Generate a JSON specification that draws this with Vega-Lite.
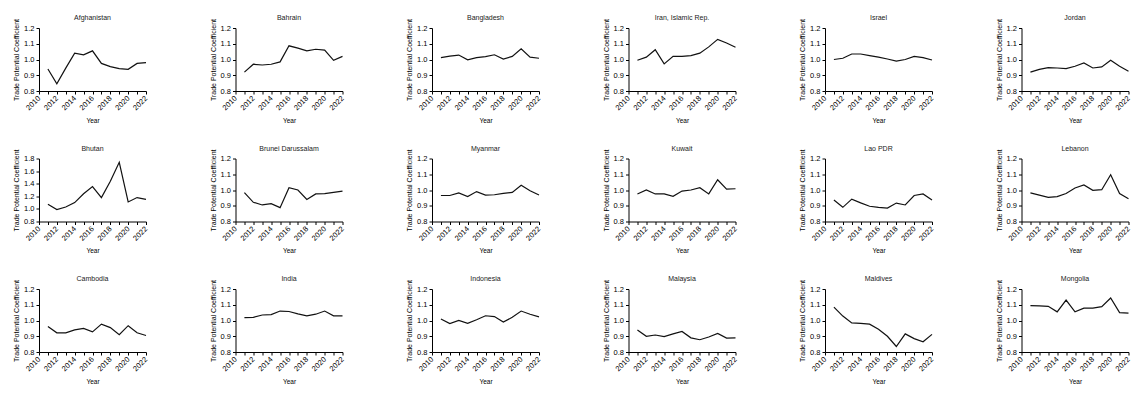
{
  "$schema": "https://vega.github.io/schema/vega-lite/v6.json",
  "background": "white",
  "padding": {"left": 12, "top": 14, "right": 5, "bottom": 5},
  "config": {
    "view": {"stroke": null},
    "font": "Liberation Sans",
    "title": {"fontSize": 7, "fontWeight": "normal", "font": "Liberation Sans", "color": "#222222", "offset": -3},
    "axis": {
      "grid": false, "domainColor": "black", "tickColor": "black", "labelColor": "black", "titleColor": "black",
      "labelFont": "Liberation Sans", "titleFont": "Liberation Sans", "labelFontSize": 7.5, "titleFontSize": 7,
      "titleFontWeight": "normal", "tickSize": 3, "domainWidth": 1, "tickWidth": 1, "labelOverlap": false
    },
    "axisX": {"labelAngle": -45, "labelAlign": "right", "labelBaseline": "middle", "titlePadding": 6, "labelPadding": 3, "titleFontSize": 6.5},
    "axisY": {"titlePadding": 4, "labelPadding": 2},
    "line": {"color": "#111111", "strokeWidth": 1.2}
  },
  "spacing": {"row": 20.5, "column": 59.5},
  "columns": 6,
  "data": {"values": [
    {"c":"Afghanistan","year":2011,"v":0.94},{"c":"Afghanistan","year":2012,"v":0.845},{"c":"Afghanistan","year":2013,"v":0.945},{"c":"Afghanistan","year":2014,"v":1.04},{"c":"Afghanistan","year":2015,"v":1.03},{"c":"Afghanistan","year":2016,"v":1.055},{"c":"Afghanistan","year":2017,"v":0.975},{"c":"Afghanistan","year":2018,"v":0.955},{"c":"Afghanistan","year":2019,"v":0.942},{"c":"Afghanistan","year":2020,"v":0.938},{"c":"Afghanistan","year":2021,"v":0.975},{"c":"Afghanistan","year":2022,"v":0.98},
    {"c":"Bahrain","year":2011,"v":0.92},{"c":"Bahrain","year":2012,"v":0.97},{"c":"Bahrain","year":2013,"v":0.965},{"c":"Bahrain","year":2014,"v":0.97},{"c":"Bahrain","year":2015,"v":0.985},{"c":"Bahrain","year":2016,"v":1.087},{"c":"Bahrain","year":2017,"v":1.072},{"c":"Bahrain","year":2018,"v":1.055},{"c":"Bahrain","year":2019,"v":1.065},{"c":"Bahrain","year":2020,"v":1.06},{"c":"Bahrain","year":2021,"v":0.995},{"c":"Bahrain","year":2022,"v":1.02},
    {"c":"Bangladesh","year":2011,"v":1.012},{"c":"Bangladesh","year":2012,"v":1.022},{"c":"Bangladesh","year":2013,"v":1.028},{"c":"Bangladesh","year":2014,"v":0.998},{"c":"Bangladesh","year":2015,"v":1.012},{"c":"Bangladesh","year":2016,"v":1.018},{"c":"Bangladesh","year":2017,"v":1.03},{"c":"Bangladesh","year":2018,"v":1.003},{"c":"Bangladesh","year":2019,"v":1.02},{"c":"Bangladesh","year":2020,"v":1.068},{"c":"Bangladesh","year":2021,"v":1.015},{"c":"Bangladesh","year":2022,"v":1.008},
    {"c":"Iran, Islamic Rep.","year":2011,"v":0.995},{"c":"Iran, Islamic Rep.","year":2012,"v":1.015},{"c":"Iran, Islamic Rep.","year":2013,"v":1.062},{"c":"Iran, Islamic Rep.","year":2014,"v":0.972},{"c":"Iran, Islamic Rep.","year":2015,"v":1.02},{"c":"Iran, Islamic Rep.","year":2016,"v":1.02},{"c":"Iran, Islamic Rep.","year":2017,"v":1.025},{"c":"Iran, Islamic Rep.","year":2018,"v":1.04},{"c":"Iran, Islamic Rep.","year":2019,"v":1.08},{"c":"Iran, Islamic Rep.","year":2020,"v":1.128},{"c":"Iran, Islamic Rep.","year":2021,"v":1.105},{"c":"Iran, Islamic Rep.","year":2022,"v":1.078},
    {"c":"Israel","year":2011,"v":1.0},{"c":"Israel","year":2012,"v":1.008},{"c":"Israel","year":2013,"v":1.035},{"c":"Israel","year":2014,"v":1.035},{"c":"Israel","year":2015,"v":1.025},{"c":"Israel","year":2016,"v":1.015},{"c":"Israel","year":2017,"v":1.003},{"c":"Israel","year":2018,"v":0.99},{"c":"Israel","year":2019,"v":1.0},{"c":"Israel","year":2020,"v":1.02},{"c":"Israel","year":2021,"v":1.012},{"c":"Israel","year":2022,"v":0.997},
    {"c":"Jordan","year":2011,"v":0.92},{"c":"Jordan","year":2012,"v":0.937},{"c":"Jordan","year":2013,"v":0.948},{"c":"Jordan","year":2014,"v":0.946},{"c":"Jordan","year":2015,"v":0.942},{"c":"Jordan","year":2016,"v":0.957},{"c":"Jordan","year":2017,"v":0.978},{"c":"Jordan","year":2018,"v":0.946},{"c":"Jordan","year":2019,"v":0.953},{"c":"Jordan","year":2020,"v":0.995},{"c":"Jordan","year":2021,"v":0.957},{"c":"Jordan","year":2022,"v":0.925},
    {"c":"Bhutan","year":2011,"v":1.075},{"c":"Bhutan","year":2012,"v":0.99},{"c":"Bhutan","year":2013,"v":1.03},{"c":"Bhutan","year":2014,"v":1.1},{"c":"Bhutan","year":2015,"v":1.24},{"c":"Bhutan","year":2016,"v":1.355},{"c":"Bhutan","year":2017,"v":1.18},{"c":"Bhutan","year":2018,"v":1.44},{"c":"Bhutan","year":2019,"v":1.74},{"c":"Bhutan","year":2020,"v":1.11},{"c":"Bhutan","year":2021,"v":1.18},{"c":"Bhutan","year":2022,"v":1.15},
    {"c":"Brunei Darussalam","year":2011,"v":0.983},{"c":"Brunei Darussalam","year":2012,"v":0.922},{"c":"Brunei Darussalam","year":2013,"v":0.905},{"c":"Brunei Darussalam","year":2014,"v":0.913},{"c":"Brunei Darussalam","year":2015,"v":0.888},{"c":"Brunei Darussalam","year":2016,"v":1.015},{"c":"Brunei Darussalam","year":2017,"v":1.0},{"c":"Brunei Darussalam","year":2018,"v":0.94},{"c":"Brunei Darussalam","year":2019,"v":0.975},{"c":"Brunei Darussalam","year":2020,"v":0.977},{"c":"Brunei Darussalam","year":2021,"v":0.985},{"c":"Brunei Darussalam","year":2022,"v":0.993},
    {"c":"Myanmar","year":2011,"v":0.965},{"c":"Myanmar","year":2012,"v":0.965},{"c":"Myanmar","year":2013,"v":0.982},{"c":"Myanmar","year":2014,"v":0.958},{"c":"Myanmar","year":2015,"v":0.99},{"c":"Myanmar","year":2016,"v":0.968},{"c":"Myanmar","year":2017,"v":0.97},{"c":"Myanmar","year":2018,"v":0.978},{"c":"Myanmar","year":2019,"v":0.985},{"c":"Myanmar","year":2020,"v":1.03},{"c":"Myanmar","year":2021,"v":0.995},{"c":"Myanmar","year":2022,"v":0.968},
    {"c":"Kuwait","year":2011,"v":0.975},{"c":"Kuwait","year":2012,"v":1.0},{"c":"Kuwait","year":2013,"v":0.975},{"c":"Kuwait","year":2014,"v":0.975},{"c":"Kuwait","year":2015,"v":0.96},{"c":"Kuwait","year":2016,"v":0.993},{"c":"Kuwait","year":2017,"v":1.0},{"c":"Kuwait","year":2018,"v":1.015},{"c":"Kuwait","year":2019,"v":0.975},{"c":"Kuwait","year":2020,"v":1.065},{"c":"Kuwait","year":2021,"v":1.005},{"c":"Kuwait","year":2022,"v":1.008},
    {"c":"Lao PDR","year":2011,"v":0.937},{"c":"Lao PDR","year":2012,"v":0.89},{"c":"Lao PDR","year":2013,"v":0.942},{"c":"Lao PDR","year":2014,"v":0.918},{"c":"Lao PDR","year":2015,"v":0.897},{"c":"Lao PDR","year":2016,"v":0.89},{"c":"Lao PDR","year":2017,"v":0.885},{"c":"Lao PDR","year":2018,"v":0.917},{"c":"Lao PDR","year":2019,"v":0.905},{"c":"Lao PDR","year":2020,"v":0.965},{"c":"Lao PDR","year":2021,"v":0.975},{"c":"Lao PDR","year":2022,"v":0.937},
    {"c":"Lebanon","year":2011,"v":0.982},{"c":"Lebanon","year":2012,"v":0.967},{"c":"Lebanon","year":2013,"v":0.953},{"c":"Lebanon","year":2014,"v":0.958},{"c":"Lebanon","year":2015,"v":0.978},{"c":"Lebanon","year":2016,"v":1.013},{"c":"Lebanon","year":2017,"v":1.032},{"c":"Lebanon","year":2018,"v":0.998},{"c":"Lebanon","year":2019,"v":1.002},{"c":"Lebanon","year":2020,"v":1.097},{"c":"Lebanon","year":2021,"v":0.978},{"c":"Lebanon","year":2022,"v":0.945},
    {"c":"Cambodia","year":2011,"v":0.962},{"c":"Cambodia","year":2012,"v":0.922},{"c":"Cambodia","year":2013,"v":0.922},{"c":"Cambodia","year":2014,"v":0.94},{"c":"Cambodia","year":2015,"v":0.95},{"c":"Cambodia","year":2016,"v":0.928},{"c":"Cambodia","year":2017,"v":0.977},{"c":"Cambodia","year":2018,"v":0.955},{"c":"Cambodia","year":2019,"v":0.91},{"c":"Cambodia","year":2020,"v":0.967},{"c":"Cambodia","year":2021,"v":0.922},{"c":"Cambodia","year":2022,"v":0.905},
    {"c":"India","year":2011,"v":1.018},{"c":"India","year":2012,"v":1.02},{"c":"India","year":2013,"v":1.035},{"c":"India","year":2014,"v":1.037},{"c":"India","year":2015,"v":1.06},{"c":"India","year":2016,"v":1.057},{"c":"India","year":2017,"v":1.042},{"c":"India","year":2018,"v":1.03},{"c":"India","year":2019,"v":1.04},{"c":"India","year":2020,"v":1.06},{"c":"India","year":2021,"v":1.03},{"c":"India","year":2022,"v":1.03},
    {"c":"Indonesia","year":2011,"v":1.01},{"c":"Indonesia","year":2012,"v":0.98},{"c":"Indonesia","year":2013,"v":1.0},{"c":"Indonesia","year":2014,"v":0.982},{"c":"Indonesia","year":2015,"v":1.005},{"c":"Indonesia","year":2016,"v":1.03},{"c":"Indonesia","year":2017,"v":1.025},{"c":"Indonesia","year":2018,"v":0.99},{"c":"Indonesia","year":2019,"v":1.02},{"c":"Indonesia","year":2020,"v":1.06},{"c":"Indonesia","year":2021,"v":1.04},{"c":"Indonesia","year":2022,"v":1.023},
    {"c":"Malaysia","year":2011,"v":0.94},{"c":"Malaysia","year":2012,"v":0.9},{"c":"Malaysia","year":2013,"v":0.908},{"c":"Malaysia","year":2014,"v":0.898},{"c":"Malaysia","year":2015,"v":0.915},{"c":"Malaysia","year":2016,"v":0.93},{"c":"Malaysia","year":2017,"v":0.89},{"c":"Malaysia","year":2018,"v":0.878},{"c":"Malaysia","year":2019,"v":0.895},{"c":"Malaysia","year":2020,"v":0.918},{"c":"Malaysia","year":2021,"v":0.888},{"c":"Malaysia","year":2022,"v":0.89},
    {"c":"Maldives","year":2011,"v":1.085},{"c":"Maldives","year":2012,"v":1.028},{"c":"Maldives","year":2013,"v":0.985},{"c":"Maldives","year":2014,"v":0.982},{"c":"Maldives","year":2015,"v":0.977},{"c":"Maldives","year":2016,"v":0.945},{"c":"Maldives","year":2017,"v":0.9},{"c":"Maldives","year":2018,"v":0.835},{"c":"Maldives","year":2019,"v":0.915},{"c":"Maldives","year":2020,"v":0.885},{"c":"Maldives","year":2021,"v":0.865},{"c":"Maldives","year":2022,"v":0.912},
    {"c":"Mongolia","year":2011,"v":1.095},{"c":"Mongolia","year":2012,"v":1.093},{"c":"Mongolia","year":2013,"v":1.09},{"c":"Mongolia","year":2014,"v":1.055},{"c":"Mongolia","year":2015,"v":1.13},{"c":"Mongolia","year":2016,"v":1.055},{"c":"Mongolia","year":2017,"v":1.078},{"c":"Mongolia","year":2018,"v":1.078},{"c":"Mongolia","year":2019,"v":1.088},{"c":"Mongolia","year":2020,"v":1.143},{"c":"Mongolia","year":2021,"v":1.05},{"c":"Mongolia","year":2022,"v":1.047}
  ]},
  "concat": [
    {"title": "Afghanistan", "width": 107, "height": 63, "transform": [{"filter": "datum.c === 'Afghanistan'"}], "mark": "line", "encoding": {"x": {"field": "year", "type": "quantitative", "scale": {"domain": [2010, 2022]}, "axis": {"title": "Year", "values": [2010,2011,2012,2013,2014,2015,2016,2017,2018,2019,2020,2021,2022], "labelExpr": "datum.value % 2 === 0 ? datum.value : ''"}}, "y": {"field": "v", "type": "quantitative", "scale": {"domain": [0.8, 1.2]}, "axis": {"title": "Trade Potential Coefficient", "values": [0.8,0.9,1.0,1.1,1.2], "format": ".1f"}}}},
    {"title": "Bahrain", "width": 107, "height": 63, "transform": [{"filter": "datum.c === 'Bahrain'"}], "mark": "line", "encoding": {"x": {"field": "year", "type": "quantitative", "scale": {"domain": [2010, 2022]}, "axis": {"title": "Year", "values": [2010,2011,2012,2013,2014,2015,2016,2017,2018,2019,2020,2021,2022], "labelExpr": "datum.value % 2 === 0 ? datum.value : ''"}}, "y": {"field": "v", "type": "quantitative", "scale": {"domain": [0.8, 1.2]}, "axis": {"title": "Trade Potential Coefficient", "values": [0.8,0.9,1.0,1.1,1.2], "format": ".1f"}}}},
    {"title": "Bangladesh", "width": 107, "height": 63, "transform": [{"filter": "datum.c === 'Bangladesh'"}], "mark": "line", "encoding": {"x": {"field": "year", "type": "quantitative", "scale": {"domain": [2010, 2022]}, "axis": {"title": "Year", "values": [2010,2011,2012,2013,2014,2015,2016,2017,2018,2019,2020,2021,2022], "labelExpr": "datum.value % 2 === 0 ? datum.value : ''"}}, "y": {"field": "v", "type": "quantitative", "scale": {"domain": [0.8, 1.2]}, "axis": {"title": "Trade Potential Coefficient", "values": [0.8,0.9,1.0,1.1,1.2], "format": ".1f"}}}},
    {"title": "Iran, Islamic Rep.", "width": 107, "height": 63, "transform": [{"filter": "datum.c === 'Iran, Islamic Rep.'"}], "mark": "line", "encoding": {"x": {"field": "year", "type": "quantitative", "scale": {"domain": [2010, 2022]}, "axis": {"title": "Year", "values": [2010,2011,2012,2013,2014,2015,2016,2017,2018,2019,2020,2021,2022], "labelExpr": "datum.value % 2 === 0 ? datum.value : ''"}}, "y": {"field": "v", "type": "quantitative", "scale": {"domain": [0.8, 1.2]}, "axis": {"title": "Trade Potential Coefficient", "values": [0.8,0.9,1.0,1.1,1.2], "format": ".1f"}}}},
    {"title": "Israel", "width": 107, "height": 63, "transform": [{"filter": "datum.c === 'Israel'"}], "mark": "line", "encoding": {"x": {"field": "year", "type": "quantitative", "scale": {"domain": [2010, 2022]}, "axis": {"title": "Year", "values": [2010,2011,2012,2013,2014,2015,2016,2017,2018,2019,2020,2021,2022], "labelExpr": "datum.value % 2 === 0 ? datum.value : ''"}}, "y": {"field": "v", "type": "quantitative", "scale": {"domain": [0.8, 1.2]}, "axis": {"title": "Trade Potential Coefficient", "values": [0.8,0.9,1.0,1.1,1.2], "format": ".1f"}}}},
    {"title": "Jordan", "width": 107, "height": 63, "transform": [{"filter": "datum.c === 'Jordan'"}], "mark": "line", "encoding": {"x": {"field": "year", "type": "quantitative", "scale": {"domain": [2010, 2022]}, "axis": {"title": "Year", "values": [2010,2011,2012,2013,2014,2015,2016,2017,2018,2019,2020,2021,2022], "labelExpr": "datum.value % 2 === 0 ? datum.value : ''"}}, "y": {"field": "v", "type": "quantitative", "scale": {"domain": [0.8, 1.2]}, "axis": {"title": "Trade Potential Coefficient", "values": [0.8,0.9,1.0,1.1,1.2], "format": ".1f"}}}},
    {"title": "Bhutan", "width": 107, "height": 63, "transform": [{"filter": "datum.c === 'Bhutan'"}], "mark": "line", "encoding": {"x": {"field": "year", "type": "quantitative", "scale": {"domain": [2010, 2022]}, "axis": {"title": "Year", "values": [2010,2011,2012,2013,2014,2015,2016,2017,2018,2019,2020,2021,2022], "labelExpr": "datum.value % 2 === 0 ? datum.value : ''"}}, "y": {"field": "v", "type": "quantitative", "scale": {"domain": [0.8, 1.8]}, "axis": {"title": "Trade Potential Coefficient", "values": [0.8,1.0,1.2,1.4,1.6,1.8], "format": ".1f"}}}},
    {"title": "Brunei Darussalam", "width": 107, "height": 63, "transform": [{"filter": "datum.c === 'Brunei Darussalam'"}], "mark": "line", "encoding": {"x": {"field": "year", "type": "quantitative", "scale": {"domain": [2010, 2022]}, "axis": {"title": "Year", "values": [2010,2011,2012,2013,2014,2015,2016,2017,2018,2019,2020,2021,2022], "labelExpr": "datum.value % 2 === 0 ? datum.value : ''"}}, "y": {"field": "v", "type": "quantitative", "scale": {"domain": [0.8, 1.2]}, "axis": {"title": "Trade Potential Coefficient", "values": [0.8,0.9,1.0,1.1,1.2], "format": ".1f"}}}},
    {"title": "Myanmar", "width": 107, "height": 63, "transform": [{"filter": "datum.c === 'Myanmar'"}], "mark": "line", "encoding": {"x": {"field": "year", "type": "quantitative", "scale": {"domain": [2010, 2022]}, "axis": {"title": "Year", "values": [2010,2011,2012,2013,2014,2015,2016,2017,2018,2019,2020,2021,2022], "labelExpr": "datum.value % 2 === 0 ? datum.value : ''"}}, "y": {"field": "v", "type": "quantitative", "scale": {"domain": [0.8, 1.2]}, "axis": {"title": "Trade Potential Coefficient", "values": [0.8,0.9,1.0,1.1,1.2], "format": ".1f"}}}},
    {"title": "Kuwait", "width": 107, "height": 63, "transform": [{"filter": "datum.c === 'Kuwait'"}], "mark": "line", "encoding": {"x": {"field": "year", "type": "quantitative", "scale": {"domain": [2010, 2022]}, "axis": {"title": "Year", "values": [2010,2011,2012,2013,2014,2015,2016,2017,2018,2019,2020,2021,2022], "labelExpr": "datum.value % 2 === 0 ? datum.value : ''"}}, "y": {"field": "v", "type": "quantitative", "scale": {"domain": [0.8, 1.2]}, "axis": {"title": "Trade Potential Coefficient", "values": [0.8,0.9,1.0,1.1,1.2], "format": ".1f"}}}},
    {"title": "Lao PDR", "width": 107, "height": 63, "transform": [{"filter": "datum.c === 'Lao PDR'"}], "mark": "line", "encoding": {"x": {"field": "year", "type": "quantitative", "scale": {"domain": [2010, 2022]}, "axis": {"title": "Year", "values": [2010,2011,2012,2013,2014,2015,2016,2017,2018,2019,2020,2021,2022], "labelExpr": "datum.value % 2 === 0 ? datum.value : ''"}}, "y": {"field": "v", "type": "quantitative", "scale": {"domain": [0.8, 1.2]}, "axis": {"title": "Trade Potential Coefficient", "values": [0.8,0.9,1.0,1.1,1.2], "format": ".1f"}}}},
    {"title": "Lebanon", "width": 107, "height": 63, "transform": [{"filter": "datum.c === 'Lebanon'"}], "mark": "line", "encoding": {"x": {"field": "year", "type": "quantitative", "scale": {"domain": [2010, 2022]}, "axis": {"title": "Year", "values": [2010,2011,2012,2013,2014,2015,2016,2017,2018,2019,2020,2021,2022], "labelExpr": "datum.value % 2 === 0 ? datum.value : ''"}}, "y": {"field": "v", "type": "quantitative", "scale": {"domain": [0.8, 1.2]}, "axis": {"title": "Trade Potential Coefficient", "values": [0.8,0.9,1.0,1.1,1.2], "format": ".1f"}}}},
    {"title": "Cambodia", "width": 107, "height": 63, "transform": [{"filter": "datum.c === 'Cambodia'"}], "mark": "line", "encoding": {"x": {"field": "year", "type": "quantitative", "scale": {"domain": [2010, 2022]}, "axis": {"title": "Year", "values": [2010,2011,2012,2013,2014,2015,2016,2017,2018,2019,2020,2021,2022], "labelExpr": "datum.value % 2 === 0 ? datum.value : ''"}}, "y": {"field": "v", "type": "quantitative", "scale": {"domain": [0.8, 1.2]}, "axis": {"title": "Trade Potential Coefficient", "values": [0.8,0.9,1.0,1.1,1.2], "format": ".1f"}}}},
    {"title": "India", "width": 107, "height": 63, "transform": [{"filter": "datum.c === 'India'"}], "mark": "line", "encoding": {"x": {"field": "year", "type": "quantitative", "scale": {"domain": [2010, 2022]}, "axis": {"title": "Year", "values": [2010,2011,2012,2013,2014,2015,2016,2017,2018,2019,2020,2021,2022], "labelExpr": "datum.value % 2 === 0 ? datum.value : ''"}}, "y": {"field": "v", "type": "quantitative", "scale": {"domain": [0.8, 1.2]}, "axis": {"title": "Trade Potential Coefficient", "values": [0.8,0.9,1.0,1.1,1.2], "format": ".1f"}}}},
    {"title": "Indonesia", "width": 107, "height": 63, "transform": [{"filter": "datum.c === 'Indonesia'"}], "mark": "line", "encoding": {"x": {"field": "year", "type": "quantitative", "scale": {"domain": [2010, 2022]}, "axis": {"title": "Year", "values": [2010,2011,2012,2013,2014,2015,2016,2017,2018,2019,2020,2021,2022], "labelExpr": "datum.value % 2 === 0 ? datum.value : ''"}}, "y": {"field": "v", "type": "quantitative", "scale": {"domain": [0.8, 1.2]}, "axis": {"title": "Trade Potential Coefficient", "values": [0.8,0.9,1.0,1.1,1.2], "format": ".1f"}}}},
    {"title": "Malaysia", "width": 107, "height": 63, "transform": [{"filter": "datum.c === 'Malaysia'"}], "mark": "line", "encoding": {"x": {"field": "year", "type": "quantitative", "scale": {"domain": [2010, 2022]}, "axis": {"title": "Year", "values": [2010,2011,2012,2013,2014,2015,2016,2017,2018,2019,2020,2021,2022], "labelExpr": "datum.value % 2 === 0 ? datum.value : ''"}}, "y": {"field": "v", "type": "quantitative", "scale": {"domain": [0.8, 1.2]}, "axis": {"title": "Trade Potential Coefficient", "values": [0.8,0.9,1.0,1.1,1.2], "format": ".1f"}}}},
    {"title": "Maldives", "width": 107, "height": 63, "transform": [{"filter": "datum.c === 'Maldives'"}], "mark": "line", "encoding": {"x": {"field": "year", "type": "quantitative", "scale": {"domain": [2010, 2022]}, "axis": {"title": "Year", "values": [2010,2011,2012,2013,2014,2015,2016,2017,2018,2019,2020,2021,2022], "labelExpr": "datum.value % 2 === 0 ? datum.value : ''"}}, "y": {"field": "v", "type": "quantitative", "scale": {"domain": [0.8, 1.2]}, "axis": {"title": "Trade Potential Coefficient", "values": [0.8,0.9,1.0,1.1,1.2], "format": ".1f"}}}},
    {"title": "Mongolia", "width": 107, "height": 63, "transform": [{"filter": "datum.c === 'Mongolia'"}], "mark": "line", "encoding": {"x": {"field": "year", "type": "quantitative", "scale": {"domain": [2010, 2022]}, "axis": {"title": "Year", "values": [2010,2011,2012,2013,2014,2015,2016,2017,2018,2019,2020,2021,2022], "labelExpr": "datum.value % 2 === 0 ? datum.value : ''"}}, "y": {"field": "v", "type": "quantitative", "scale": {"domain": [0.8, 1.2]}, "axis": {"title": "Trade Potential Coefficient", "values": [0.8,0.9,1.0,1.1,1.2], "format": ".1f"}}}}
  ]
}
